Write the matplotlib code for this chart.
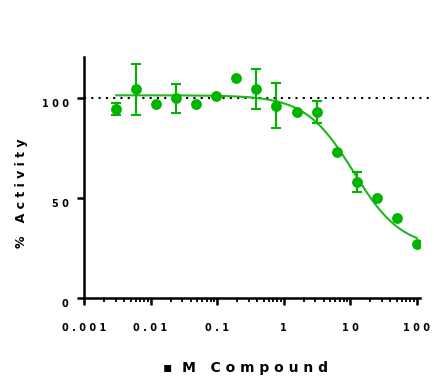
import numpy as np
import matplotlib
matplotlib.use('Agg')
import matplotlib.pyplot as plt
from matplotlib.transforms import ScaledTranslation

#-------data------
conc = [0.00305, 0.0061, 0.0122, 0.0244, 0.0488, 0.0977, 0.195, 0.39,
        0.78, 1.5625, 3.125, 6.25, 12.5, 25, 50, 100]
activity = [94.7, 104.5, 97.0, 100.0, 97.3, 101.2, 110.2, 104.5,
            96.3, 93.2, 93.2, 73.0, 58.3, 50.0, 40.0, 27.0]
err = [2.9, 12.7, 0, 7.3, 0, 0, 0, 10.0,
       11.2, 0, 5.3, 0, 5.0, 0, 0, 0]
# fitted 4-parameter logistic
top, bottom, log_ic50, hill = 101.5, 25.0, 1.05, 1.2
xticks = [0.001, 0.01, 0.1, 1, 10, 100]
xlabels = ['0 . 0 0 1', '0 . 0 1', '0 . 1', '1', '1 0', '1 0 0']
yticks = [0, 50, 100]
ylabels = ['0', '5 0', '1 0 0']

green = '#00b400'

#-------figure------
fig = plt.figure(figsize=(4.34, 3.76), dpi=100)
ax = fig.add_axes([84/434, 1-298.3/376, 336/434, 241/376])
ax.set_xscale('log')
ax.set_xlim(0.001, 112)
ax.set_ylim(0, 120.5)

#-----reference line at 100----
ax.axhline(100, xmin=0, xmax=1.045, color='black', lw=1.5,
           dashes=(1, 2.5), clip_on=False, zorder=1)

#-----fit curve----
xs = np.logspace(np.log10(conc[0]), np.log10(conc[-1]), 300)
ys = bottom + (top-bottom)/(1 + 10**((np.log10(xs)-log_ic50)*hill))
ax.plot(xs, ys, color='#1cb81c', lw=1.5, zorder=2)

#-----points + error bars----
c = np.array(conc)
a = np.array(activity)
e = np.array(err)
m = e > 0
ax.errorbar(c[m], a[m], yerr=e[m], fmt='none', ecolor=green,
            elinewidth=1.5, capsize=3.3, capthick=1.5, zorder=3)
ax.plot(c, a, 'o', color=green, ms=7.8, mec='none', zorder=4)

#-----axes style----
for s in ['top', 'right']:
    ax.spines[s].set_visible(False)
for s in ['left', 'bottom']:
    ax.spines[s].set_linewidth(1.8)

ax.set_xticks(xticks)
ax.set_xticklabels(xlabels, fontsize=7, fontweight='bold')
ax.set_yticks(yticks)
ax.set_yticklabels(ylabels, fontsize=7, fontweight='bold')
ax.set_xticks([d*k for d in xticks[:-1] for k in range(2, 10)], minor=True)
ax.tick_params(axis='x', which='major', length=5, width=1.8, pad=13)
ax.tick_params(axis='x', which='minor', length=3, width=1.3)
ax.tick_params(axis='y', which='major', length=5, width=1.8, pad=6)
ax.tick_params(axis='y', which='minor', length=0)

off = ScaledTranslation(0, -4.5/100, fig.dpi_scale_trans)
for lab in ax.get_yticklabels():
    lab.set_transform(lab.get_transform() + off)

#-----labels----
fig.text(22/434, 1-193/376, '%   A c t i v i t y', rotation=90,
         ha='center', va='center', fontsize=9, fontweight='bold')
fig.text(245/434, 1-368/376, '\u25aa  M   C o m p o u n d',
         ha='center', va='center', fontsize=10, fontweight='bold')

fig.savefig('out.png', dpi=100)
